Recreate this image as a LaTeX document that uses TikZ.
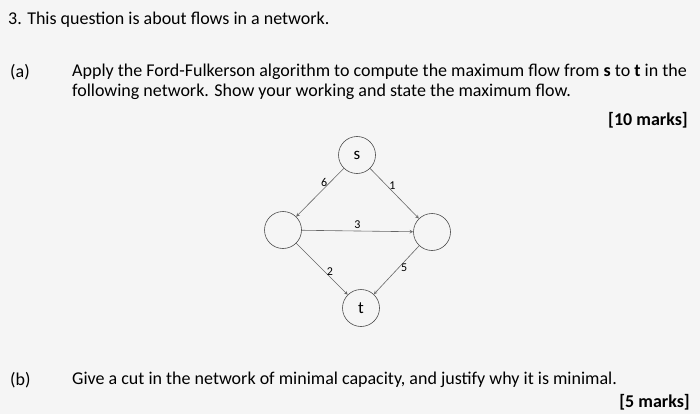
\documentclass[tikz,border=0pt]{standalone}
\usepackage{fontspec}
\setmainfont{Carlito}
\begin{document}
\begin{tikzpicture}[x=1pt,y=-1pt,
  vtx/.style={circle,draw=black!70,line width=0.6pt,minimum size=37pt,inner sep=0pt,font=\fontsize{17}{19}\selectfont},
  edge/.style={draw=black!60,line width=0.6pt,-stealth},
  lbl/.style={font=\fontsize{12}{14}\selectfont,inner sep=2pt},
  txt/.style={anchor=west,inner sep=0pt,font=\fontsize{18}{21}\selectfont}]
\fill[black!4] (0,0) rectangle (700,414);
\useasboundingbox (0,0) rectangle (700,414);
\node[txt] (q) at (8,20) {3. This question is about flows in a network.};
\node[txt] (a) at (10,72) {(a)};
\node[txt] (a1) at (72,72) {Apply the Ford-Fulkerson algorithm to compute the maximum flow from \textbf{s} to \textbf{t} in the};
\node[txt] (a2) at (72,92) {following network. Show your working and state the maximum flow.};
\node[txt,anchor=east] (m1) at (688,120) {\textbf{[10 marks]}};
\node[vtx] (s) at (357,155) {s};
\node[vtx] (l) at (283,230) {};
\node[vtx] (r) at (432,232) {};
\node[vtx] (t) at (361,308) {t};
\draw[edge] (s) -- node[lbl,pos=0.3,left] {6} (l);
\draw[edge] (s) -- node[lbl,pos=0.35,right] {1} (r);
\draw[edge] (l) -- node[lbl,above] {3} (r);
\draw[edge] (l) -- node[lbl,pos=0.55,right] {2} (t);
\draw[edge] (r) -- node[lbl,pos=0.45,right] {5} (t);
\node[txt] (b) at (10,380) {(b)};
\node[txt] (b1) at (72,380) {Give a cut in the network of minimal capacity, and justify why it is minimal.};
\node[txt,anchor=east] (m2) at (690,402) {\textbf{[5 marks]}};
\end{tikzpicture}
\end{document}
